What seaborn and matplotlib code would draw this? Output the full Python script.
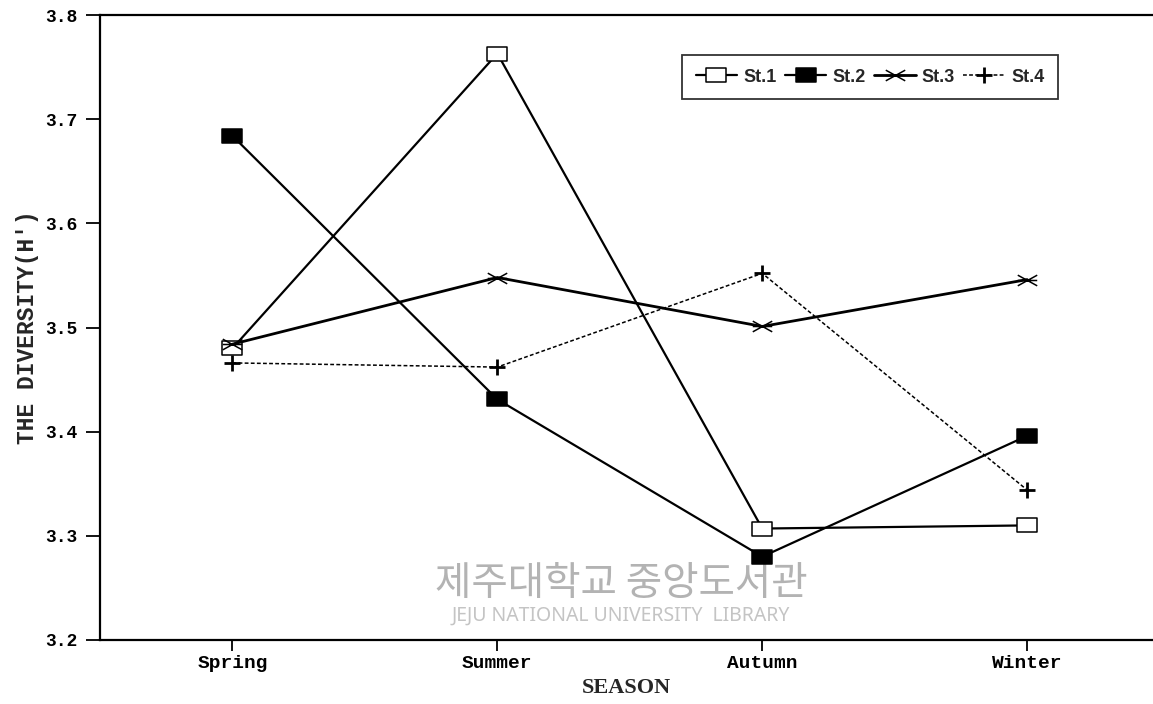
import numpy as np
import pandas as pd
import matplotlib
matplotlib.use("Agg")
import matplotlib.pyplot as plt
from matplotlib.path import Path
import seaborn as sns

# ==========================================
# 1. DATA
# ==========================================
seasons = ["Spring", "Summer", "Autumn", "Winter"]
stations = ["St.1", "St.2", "St.3", "St.4"]

st1 = [3.480, 3.763, 3.307, 3.310]
st2 = [3.684, 3.431, 3.280, 3.396]
st3 = [3.484, 3.548, 3.501, 3.546]
st4 = [3.466, 3.462, 3.552, 3.344]

y_ticks = [3.2, 3.3, 3.4, 3.5, 3.6, 3.7, 3.8]

df = pd.DataFrame({
    "season": seasons * 4,
    "station": np.repeat(stations, len(seasons)),
    "H": st1 + st2 + st3 + st4,
})

# ==========================================
# 2. STYLE
# ==========================================
sns.set_theme(style="white")
plt.rcParams["font.family"] = ["Liberation Mono", "DejaVu Sans"]

# flat asterisk for St.3, wide box for St.1 / St.2
star = Path([(-1, -0.55), (1, 0.55), (-1, 0.55), (1, -0.55), (-1, 0), (1, 0)],
            [Path.MOVETO, Path.LINETO] * 3)
box = Path([(-1, -0.7), (1, -0.7), (1, 0.7), (-1, 0.7), (-1, -0.7)],
           [Path.MOVETO, Path.LINETO, Path.LINETO, Path.LINETO, Path.CLOSEPOLY])

styles = {
    "St.1": dict(marker=box, markersize=15, markerfacecolor="white",
                 markeredgewidth=1.1, linewidth=1.6, linestyle="-"),
    "St.2": dict(marker=box, markersize=15, markerfacecolor="black",
                 markeredgewidth=1.1, linewidth=1.6, linestyle="-"),
    "St.3": dict(marker=star, markersize=14, markerfacecolor="black",
                 markeredgewidth=1.1, linewidth=2.0, linestyle="-"),
    "St.4": dict(marker="+", markersize=12, markeredgewidth=2.0,
                 linewidth=1.1, linestyle=(0, (2.5, 1.5))),
}

# ==========================================
# 3. PLOT
# ==========================================
fig = plt.figure(figsize=(11.53, 7.04), dpi=100)
ax = fig.add_axes([100 / 1153, 1 - 640 / 704, 1 - 100 / 1153, (640 - 15) / 704])

for st in stations:
    sns.lineplot(data=df[df["station"] == st], x="season", y="H", ax=ax,
                 color="black", markeredgecolor="black", label=st,
                 sort=False, zorder=3, **styles[st])

ax.set_xlim(-0.5, 3.475)
ax.set_ylim(3.2, 3.8)
ax.set_yticks(y_ticks)
ax.set_yticklabels([f"{t:.1f}" for t in y_ticks], fontsize=13, fontweight="bold")
ax.set_xticks(range(len(seasons)))
ax.set_xticklabels(seasons, fontsize=14, fontweight="bold")

ax.tick_params(axis="y", direction="out", length=10, width=1.3, pad=6,
               left=True, colors="black")
ax.tick_params(axis="x", direction="out", length=8, width=1.3, pad=3,
               bottom=True, colors="black")

for side in ["top", "left", "bottom"]:
    ax.spines[side].set_color("black")
    ax.spines[side].set_linewidth(1.6)
ax.spines["right"].set_visible(False)

ax.set_ylabel("THE DIVERSITY(H')", fontsize=16.5, fontweight="bold", labelpad=5)
ax.set_xlabel("SEASON", fontsize=16, fontweight="bold",
              family="Liberation Serif", labelpad=4)

leg = ax.legend(loc="upper left", bbox_to_anchor=(673 / 1153, 1 - 46 / 704),
                bbox_transform=fig.transFigure, ncol=4, frameon=True,
                fancybox=False, edgecolor="black", borderpad=0.75,
                handlelength=2.3, handletextpad=0.35, columnspacing=0.45,
                prop={"family": "Liberation Sans", "weight": "bold", "size": 13})
leg.get_frame().set_linewidth(1.3)

# library watermark of the scanned source
ax.text(621 / 1153, 1 - 584 / 704, "제주대학교 중앙도서관", transform=fig.transFigure,
        ha="center", va="center", fontsize=28.5, color="#b3b3b3",
        family=["Noto Sans CJK KR", "DejaVu Sans"], zorder=1)
ax.text(621 / 1153, 1 - 616 / 704, "JEJU NATIONAL UNIVERSITY  LIBRARY",
        transform=fig.transFigure, ha="center", va="center", fontsize=14,
        color="#c4c4c4", family="Noto Sans", zorder=1)

fig.savefig("out.png", dpi=100)
